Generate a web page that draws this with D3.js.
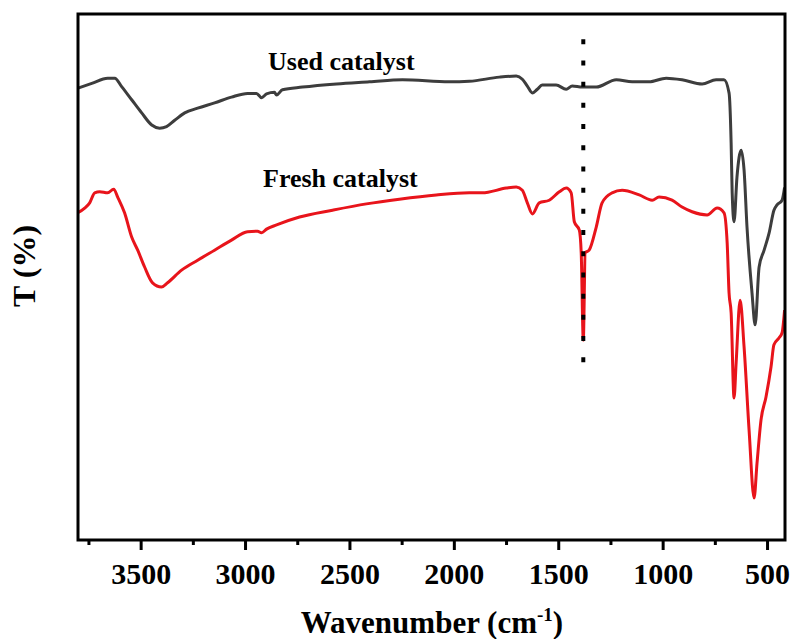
<!DOCTYPE html>
<html>
<head>
<meta charset="utf-8">
<script src="https://cdn.jsdelivr.net/npm/d3@7"></script>
<style>
  html, body { margin: 0; padding: 0; background: #fff; }
  svg { display: block; }
  text { font-family: "Liberation Serif", "Times New Roman", Times, serif; font-weight: bold; fill: #000; }
</style>
</head>
<body>
<svg id="chart" width="793" height="639"></svg>
<script>
// FTIR spectra of the catalyst, fresh and after use (transmittance, arbitrary offset units)
const usedWavenumber = [3801, 3734, 3658, 3624, 3591, 3543, 3495, 3447, 3409, 3376, 3337, 3289, 3227, 3146, 3065,
  2988, 2945, 2921, 2897, 2859, 2849, 2821, 2725, 2562, 2404, 2246, 2022, 1926, 1782, 1701, 1672, 1648, 1624,
  1600, 1577, 1510, 1462, 1433, 1385, 1318, 1222, 1146, 1065, 983, 907, 811, 744, 706, 682, 672, 667, 658, 644,
  624, 610, 596, 572, 557, 538, 514, 490, 467, 452, 428, 416];
const usedT = [85.9, 86.8, 87.8, 87.8, 86.2, 83.7, 81.2, 78.9, 78.3, 78.6, 79.8, 81.2, 82.1, 83.1, 84.2,
  84.9, 84.9, 84.1, 84.8, 85.1, 84.6, 85.6, 86.1, 86.7, 87.1, 87.5, 87.1, 87.2, 88.0, 88.2, 87.6, 86.3, 85.0,
  85.7, 86.5, 86.5, 85.7, 86.3, 86.1, 86.1, 87.5, 87.1, 87.1, 87.8, 87.5, 86.7, 87.5, 87.5, 85.0, 75.5, 66.0, 60.5, 69.0,
  74.1, 70.3, 59.5, 47.0, 40.9, 51.9, 55.1, 58.4, 62.7, 63.7, 64.6, 67.0];

const freshWavenumber = [3801, 3768, 3744, 3720, 3696, 3658, 3629, 3610, 3577, 3543, 3514, 3481, 3443, 3400, 3371,
  3304, 3227, 3146, 3065, 2988, 2940, 2921, 2897, 2849, 2739, 2581, 2419, 2261, 2084, 1926, 1864, 1749, 1701,
  1672, 1648, 1624, 1591, 1543, 1495, 1462, 1438, 1423, 1399, 1390, 1380, 1371, 1352, 1318, 1290, 1242, 1194,
  1112, 1050, 1017, 955, 907, 859, 787, 739, 706, 691, 682, 672, 658, 648, 629, 610, 586, 562, 548, 529, 505,
  481, 467, 443, 428, 416];
const freshT = [62.2, 63.1, 64.1, 66.0, 66.2, 66.0, 66.7, 65.2, 62.2, 57.6, 55.1, 51.9, 48.9, 48.1, 48.9,
  51.3, 53.2, 55.1, 57.0, 58.6, 58.7, 58.4, 59.1, 59.9, 61.4, 62.7, 63.9, 64.8, 65.6, 66.0, 66.0, 66.9, 67.1,
  66.5, 64.1, 62.0, 64.1, 64.6, 66.2, 66.9, 66.0, 60.5, 58.9, 54.6, 38.0, 54.6, 55.1, 59.5, 64.1, 66.0, 66.5,
  65.6, 64.6, 65.2, 64.6, 63.3, 62.4, 61.8, 63.1, 62.2, 56.5, 47.0, 43.2, 27.0, 33.7, 45.6, 36.7, 20.9, 8.0, 14.6, 22.8, 27.2,
  32.9, 37.1, 38.4, 39.4, 43.7];

const majorTicks = [3500, 3000, 2500, 2000, 1500, 1000, 500];
const minorTicks = [3750, 3250, 2750, 2250, 1750, 1250, 750];
const seriesLabels = ["Used catalyst", "Fresh catalyst"];
const markerWavenumber = 1380;   // dotted guide through the sharp band
const markerRange = [95.2, 33.6];

(function draw() {
  const svg = d3.select("#chart");
  const W = 793, H = 639;
  const mLeft = 78, mRight = 785, mTop = 14, mBottom = 540;

  svg.append("rect").attr("width", W).attr("height", H).attr("fill", "#fff");

  const x = d3.scaleLinear().domain([3800, 414]).range([mLeft, mRight]);
  const y = d3.scaleLinear().domain([0, 100]).range([mBottom, mTop]);

  const line = d3.line()
    .x(d => x(d[0]))
    .y(d => y(d[1]))
    .curve(d3.curveMonotoneX);

  const used = usedWavenumber.map((w, i) => [w, usedT[i]]);
  const fresh = freshWavenumber.map((w, i) => [w, freshT[i]]);

  const plot = svg.append("g");
  plot.append("path").datum(used)
    .attr("d", line).attr("fill", "none")
    .attr("stroke", "#3d3d3d").attr("stroke-width", 3).attr("stroke-linejoin", "round");
  plot.append("path").datum(fresh)
    .attr("d", line).attr("fill", "none")
    .attr("stroke", "#e8141b").attr("stroke-width", 3).attr("stroke-linejoin", "round");

  // dotted guide line
  plot.append("line")
    .attr("x1", x(markerWavenumber)).attr("x2", x(markerWavenumber))
    .attr("y1", y(markerRange[0])).attr("y2", y(markerRange[1]))
    .attr("stroke", "#000").attr("stroke-width", 4)
    .attr("stroke-dasharray", "5 16.2");

  // frame
  svg.append("rect")
    .attr("x", mLeft).attr("y", mTop)
    .attr("width", mRight - mLeft).attr("height", mBottom - mTop)
    .attr("fill", "none").attr("stroke", "#000").attr("stroke-width", 3);

  // x axis: major and minor ticks
  const xAxis = svg.append("g").attr("transform", `translate(0,${mBottom})`)
    .call(d3.axisBottom(x).tickValues(majorTicks).tickSize(10).tickPadding(13).tickFormat(d3.format("d")));
  xAxis.select(".domain").remove();
  xAxis.selectAll(".tick line").attr("stroke", "#000").attr("stroke-width", 3);
  xAxis.selectAll(".tick text")
    .style("font-family", "'Liberation Serif', 'Times New Roman', Times, serif")
    .style("font-weight", "bold").style("font-size", "30px").attr("fill", "#000");

  const xMinor = svg.append("g").attr("transform", `translate(0,${mBottom})`)
    .call(d3.axisBottom(x).tickValues(minorTicks).tickSize(5).tickFormat(""));
  xMinor.select(".domain").remove();
  xMinor.selectAll(".tick line").attr("stroke", "#000").attr("stroke-width", 3);

  // axis titles
  const xt = svg.append("text")
    .attr("x", 432).attr("y", 633)
    .attr("text-anchor", "middle")
    .style("font-size", "31px");
  xt.append("tspan").text("Wavenumber (cm");
  xt.append("tspan").attr("dy", -12).style("font-size", "19px").text("-1");
  xt.append("tspan").attr("dy", 12).text(")");

  svg.append("text")
    .attr("transform", "translate(35,266) rotate(-90)")
    .attr("text-anchor", "middle")
    .style("font-size", "32px")
    .text("T (%)");

  // series labels
  svg.append("text").attr("x", 268).attr("y", 70).style("font-size", "26px").text(seriesLabels[0]);
  svg.append("text").attr("x", 263).attr("y", 187).style("font-size", "26px").text(seriesLabels[1]);
})();
</script>
</body>
</html>
